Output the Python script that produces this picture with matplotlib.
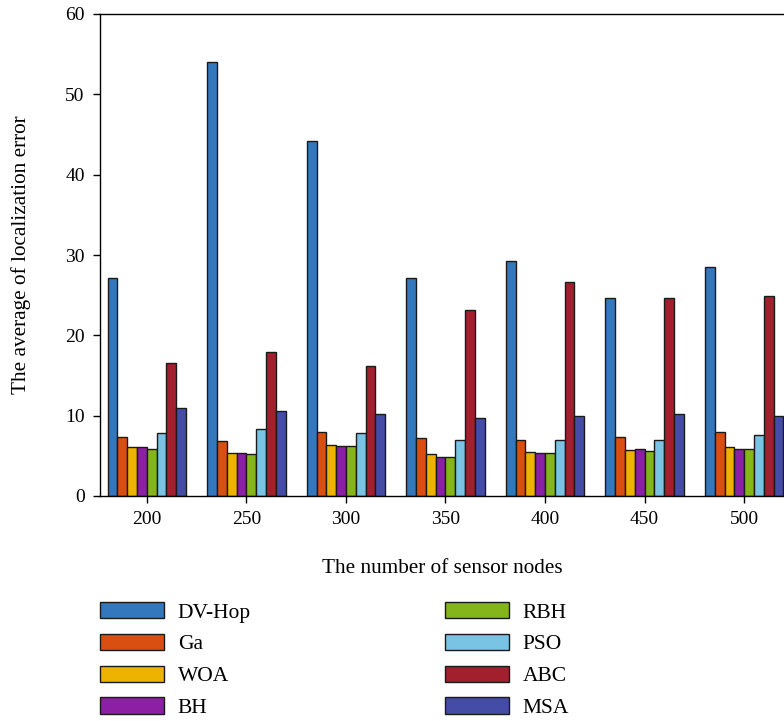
import numpy as np
import matplotlib
matplotlib.use("Agg")
from matplotlib import pyplot as plt
from matplotlib.patches import Patch

plt.rcParams['font.family'] = ['Liberation Serif', 'DejaVu Serif']

# data
nodes = [200, 250, 300, 350, 400, 450, 500]
methods = ['DV-Hop', 'Ga', 'WOA', 'BH', 'RBH', 'PSO', 'ABC', 'MSA']
dvhop = [27.1, 54.0, 44.2, 27.1, 29.2, 24.6, 28.5]
ga = [7.3, 6.9, 8.0, 7.2, 7.0, 7.3, 8.0]
woa = [6.1, 5.4, 6.3, 5.2, 5.5, 5.7, 6.1]
bh = [6.1, 5.4, 6.2, 4.9, 5.4, 5.8, 5.9]
rbh = [5.9, 5.2, 6.2, 4.9, 5.3, 5.6, 5.9]
pso = [7.9, 8.3, 7.8, 7.0, 7.0, 7.0, 7.6]
abc = [16.5, 17.9, 16.2, 23.1, 26.7, 24.7, 24.9]
msa = [10.9, 10.6, 10.2, 9.7, 10.0, 10.2, 9.9]
series = [dvhop, ga, woa, bh, rbh, pso, abc, msa]

colors = ['#3377bd', '#d94f12', '#eeb200', '#8b20a6', '#84b51a',
          '#79c3e4', '#a21f2e', '#444ca8']

fig = plt.figure(figsize=(7.84, 7.21), dpi=100)
ax = fig.add_axes([100/784, 225/721, 684/784, 482/721])

w = 4.92
x = np.array(nodes, dtype=float)
for i, (vals, c) in enumerate(zip(series, colors)):
    ax.bar(x + (i - 3.5)*w, vals, width=w, color=c, edgecolor='#1a1a1a',
           linewidth=1.0)

ax.set_xlim(176.5, 520)
ax.set_ylim(0, 60)
ax.set_xticks(nodes)
ax.set_yticks(range(0, 61, 10))
ax.spines['right'].set_visible(False)
for s in ['left', 'top', 'bottom']:
    ax.spines[s].set_linewidth(1.0)
ax.tick_params(direction='out', length=5, width=1, labelsize=14, pad=6)
ax.set_xlabel("The number of sensor nodes", fontsize=15.3, labelpad=22)
ax.set_ylabel("The average of localization error", fontsize=15.3)
ax.yaxis.set_label_coords((31 - 100)/684, 0.5)

handles = [Patch(facecolor=c, edgecolor='#1a1a1a', linewidth=1.0)
           for c in colors]
for k, xa in enumerate([100, 445]):
    leg = fig.legend(handles[4*k:4*k+4], methods[4*k:4*k+4],
                     loc='upper left',
                     bbox_to_anchor=(xa/784, 1 - 602/721),
                     frameon=False, fontsize=15.5, borderpad=0,
                     borderaxespad=0, handlelength=2.95, handleheight=0.78,
                     handletextpad=0.66, labelspacing=0.52)

fig.savefig("out.png", dpi=100)
